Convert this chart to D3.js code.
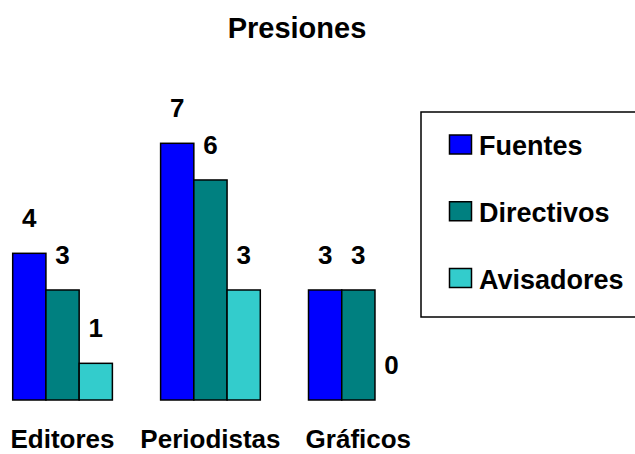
<!DOCTYPE html>
<html>
<head>
<meta charset="utf-8">
<script src="https://cdn.jsdelivr.net/npm/d3@7"></script>
<style>
  html, body { margin: 0; padding: 0; background: #fff; }
  svg { display: block; }
  text { font-family: "Liberation Sans", Arial, sans-serif; font-weight: bold; fill: #000; }
</style>
</head>
<body>
<svg id="chart" width="635" height="454"></svg>
<script>
const title = "Presiones";
const categories = ["Editores", "Periodistas", "Gráficos"];
const series = ["Fuentes", "Directivos", "Avisadores"];
const fuentes = [4, 7, 3];
const directivos = [3, 6, 3];
const avisadores = [1, 3, 0];
const colors = ["#0000ff", "#008080", "#33cccc"];

const values = [fuentes, directivos, avisadores];
const rows = categories.map((c, i) => ({
  category: c,
  items: series.map((s, j) => ({ series: s, value: values[j][i], color: colors[j] }))
}));

const svg = d3.select("#chart");

const x0 = d3.scaleBand().domain(categories).range([12.7, 408.2])
  .paddingInner(0.326).paddingOuter(0);
const x1 = d3.scaleBand().domain(series).range([0, x0.bandwidth()]);
const y = d3.scaleLinear().domain([0, 7]).range([400, 143.3]);

// Title
svg.append("text")
  .attr("x", 297).attr("y", 37.5)
  .attr("text-anchor", "middle")
  .style("font-size", "29px")
  .text(title);

// Bars
const groups = svg.selectAll("g.group").data(rows).join("g")
  .attr("class", "group")
  .attr("transform", d => `translate(${x0(d.category)},0)`);

groups.selectAll("rect").data(d => d.items).join("rect")
  .attr("x", d => x1(d.series))
  .attr("y", d => y(d.value))
  .attr("width", x1.bandwidth())
  .attr("height", d => y(0) - y(d.value))
  .attr("fill", d => d.color)
  .attr("stroke", "#000")
  .attr("stroke-width", 1.5);

// Value labels
groups.selectAll("text.val").data(d => d.items).join("text")
  .attr("class", "val")
  .attr("x", d => x1(d.series) + x1.bandwidth() / 2)
  .attr("y", d => y(d.value) - 26)
  .attr("text-anchor", "middle")
  .style("font-size", "26px")
  .text(d => d.value);

// Category labels
svg.selectAll("text.cat").data(categories).join("text")
  .attr("class", "cat")
  .attr("x", d => x0(d) + x0.bandwidth() / 2)
  .attr("y", 448)
  .attr("text-anchor", "middle")
  .style("font-size", "26px")
  .text(d => d);

// Legend
const legend = svg.append("g");
legend.append("rect")
  .attr("x", 421).attr("y", 112)
  .attr("width", 300).attr("height", 205)
  .attr("fill", "#fff")
  .attr("stroke", "#000")
  .attr("stroke-width", 1.5);

const ly = d3.scalePoint().domain(series).range([155, 288.5]);
const items = legend.selectAll("g.item").data(series).join("g")
  .attr("class", "item")
  .attr("transform", d => `translate(0,${ly(d)})`);
items.append("rect")
  .attr("x", 449.5).attr("y", -20)
  .attr("width", 22).attr("height", 19)
  .attr("fill", (d, i) => colors[i])
  .attr("stroke", "#000")
  .attr("stroke-width", 1.5);
items.append("text")
  .attr("x", 479)
  .attr("y", 0)
  .style("font-size", "27px")
  .text(d => d);
</script>
</body>
</html>
